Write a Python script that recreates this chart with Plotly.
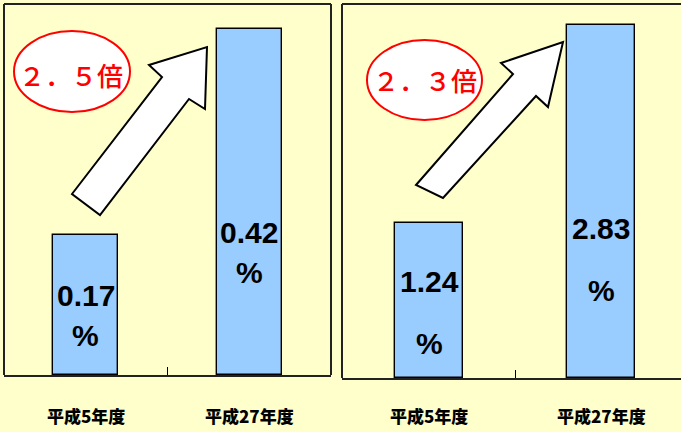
import plotly.graph_objects as go

# Survey years and the rate (%) measured in each year, for the two panels
categories = ["平成5年度", "平成27年度"]
rate_left = [0.17, 0.42]
rate_right = [1.24, 2.83]
ratio_text = ["２．５倍", "２．３倍"]

W, H = 681, 432
BG = "#FFFFCC"
BAR = "#99CCFF"
FRAME = "#222222"


def px(x, y):
    """Pixel position -> paper coordinates."""
    return x / W, 1 - y / H


def path(points):
    parts = []
    for i, (x, y) in enumerate(points):
        u, v = px(x, y)
        parts.append(("M" if i == 0 else "L") + f"{u:.5f},{v:.5f}")
    return " ".join(parts) + " Z"


fig = go.Figure()
x_idx = list(range(len(categories)))
fig.add_trace(go.Bar(x=x_idx, y=rate_left, width=0.4, xaxis="x", yaxis="y",
                     marker=dict(color=BAR, line=dict(color="#000000", width=1.4)),
                     showlegend=False, hoverinfo="skip"))
fig.add_trace(go.Bar(x=x_idx, y=rate_right, width=0.4, xaxis="x2", yaxis="y2",
                     marker=dict(color=BAR, line=dict(color="#000000", width=1.4)),
                     showlegend=False, hoverinfo="skip"))

xcommon = dict(showgrid=False, zeroline=False, showticklabels=False,
               showline=True, linecolor=FRAME, linewidth=2,
               tickmode="array", tickvals=[0.5], ticks="inside", ticklen=8,
               tickwidth=1.2, tickcolor="#000000", fixedrange=True)
ycommon = dict(showgrid=False, zeroline=False, showticklabels=False,
               showline=False, fixedrange=True)

fig.update_layout(
    width=W, height=H,
    margin=dict(l=0, r=0, t=0, b=0),
    paper_bgcolor=BG, plot_bgcolor=BG,
    bargap=0,
    xaxis=dict(domain=[4 / W, 331 / W], range=[-0.5, 1.5], anchor="y", **xcommon),
    yaxis=dict(domain=[57 / H, 428 / H], range=[0, 0.45], anchor="x", **ycommon),
    xaxis2=dict(domain=[342 / W, 1.0], range=[-0.506, 1.465], anchor="y2", **xcommon),
    yaxis2=dict(domain=[54 / H, 428 / H], range=[0, 3.0], anchor="x2", **ycommon),
)

shapes = []
# panel frames (left, top, right edges; the x axis line forms the bottom)
for x0, x1, y0, y1 in [(4, 331, 4, 375), (342, 690, 4, 378)]:
    for a, b in [((x0, y1), (x0, y0)), ((x0, y0), (x1, y0)), ((x1, y0), (x1, y1))]:
        u0, v0 = px(*a)
        u1, v1 = px(*b)
        shapes.append(dict(type="line", xref="paper", yref="paper",
                           x0=u0, y0=v0, x1=u1, y1=v1,
                           line=dict(color=FRAME, width=2)))

# rising arrows
arrows = [
    [(72, 194), (162, 77), (149, 65), (207, 47), (205, 109), (189, 99), (100, 215)],
    [(416, 185), (513, 74), (501, 63), (563, 42), (548, 107), (536, 96), (443, 198)],
]
for pts in arrows:
    shapes.append(dict(type="path", xref="paper", yref="paper", path=path(pts),
                       fillcolor="#FFFFFF", line=dict(color="#000000", width=2)))

# ratio ellipses
ellipses = [(14, 31, 130, 112), (367, 40, 482, 120)]
for (ex0, ey0, ex1, ey1) in ellipses:
    u0, v1 = px(ex0, ey0)
    u1, v0 = px(ex1, ey1)
    shapes.append(dict(type="circle", xref="paper", yref="paper",
                       x0=u0, y0=v0, x1=u1, y1=v1,
                       fillcolor="#FFFFFF", line=dict(color="#FF0000", width=2)))

fig.update_layout(shapes=shapes)

ann = []
# ratio text inside the ellipses
for txt, (cx, cy) in zip(ratio_text, [(71, 74), (425, 80)]):
    u, v = px(cx, cy)
    ann.append(dict(text=txt, x=u, y=v, xref="paper", yref="paper",
                    xanchor="center", yanchor="middle", showarrow=False,
                    font=dict(family="Noto Sans CJK JP", size=26, color="#FF0000",
                              weight=500)))

# value labels inside the bars: number on one line, % sign below
label_rows = [
    ("x", rate_left, [(295, 335), (232, 272)]),
    ("x2", rate_right, [(281, 343), (228, 290)]),
]
vfont = dict(family="Liberation Sans, Arial", size=30, color="#000000", weight="bold")
for xref, vals, rows in label_rows:
    for i, (v, (ny, py)) in enumerate(zip(vals, rows)):
        ann.append(dict(text=f"{v:.2f}", x=i, y=1 - ny / H, xref=xref, yref="paper",
                        xanchor="center", yanchor="middle", showarrow=False, font=vfont))
        ann.append(dict(text="%", x=i, y=1 - py / H, xref=xref, yref="paper",
                        xanchor="center", yanchor="middle", showarrow=False, font=vfont))

# category labels under each bar
cfont = dict(family="Noto Sans CJK JP", size=17, color="#000000", weight=900)
for xref in ["x", "x2"]:
    for i, c in enumerate(categories):
        ann.append(dict(text=c, x=i, y=1 - 415 / H, xref=xref, yref="paper",
                        xanchor="center", yanchor="middle", showarrow=False, font=cfont))

fig.update_layout(annotations=ann)

fig.write_html("out.html")
